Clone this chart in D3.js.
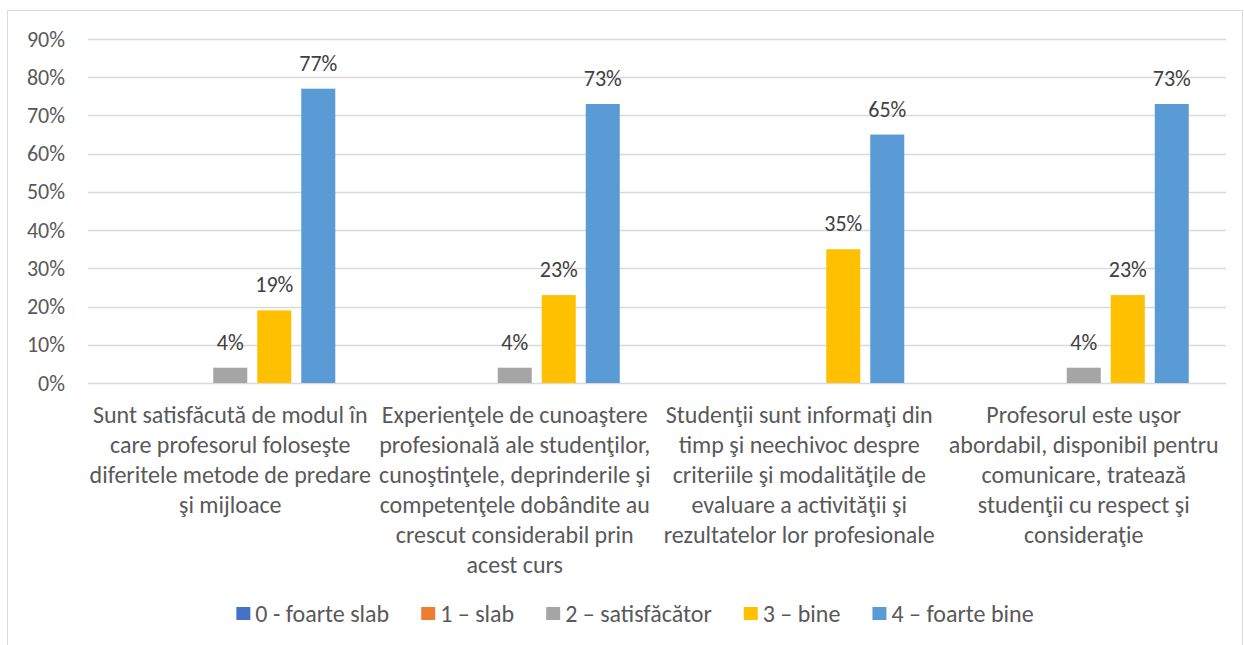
<!DOCTYPE html>
<html>
<head>
<meta charset="utf-8">
<script src="https://cdn.jsdelivr.net/npm/d3@7"></script>
<style>
  html, body { margin: 0; padding: 0; background: #fff; }
  svg { display: block; font-family: Carlito, Calibri, Lato, sans-serif; }
</style>
</head>
<body>
<div id="chart"></div>
<script>
const categories = [
  "Sunt satisfăcută de modul în care profesorul foloseşte diferitele metode de predare şi mijloace",
  "Experienţele de cunoaştere profesională ale studenţilor, cunoştinţele, deprinderile şi competenţele dobândite au crescut considerabil prin acest curs",
  "Studenţii sunt informaţi din timp şi neechivoc despre criteriile şi modalităţile de evaluare a activităţii şi rezultatelor lor profesionale",
  "Profesorul este uşor abordabil, disponibil pentru comunicare, tratează studenţii cu respect şi consideraţie"
];
const seriesNames = ["0 - foarte slab", "1 – slab", "2 – satisfăcător", "3 – bine", "4 – foarte bine"];
const seriesColors = ["#4472C4", "#ED7D31", "#A5A5A5", "#FFC000", "#5B9BD5"];
// one array per series, null = no answer shown
const values0 = [null, null, null, null];
const values1 = [null, null, null, null];
const values2 = [0.04, 0.04, null, 0.04];
const values3 = [0.19, 0.23, 0.35, 0.23];
const values4 = [0.77, 0.73, 0.65, 0.73];
const yTicks = [0, 0.1, 0.2, 0.3, 0.4, 0.5, 0.6, 0.7, 0.8, 0.9];

const width = 1244, height = 645;
const margin = {left: 88, right: 18, top: 39, bottom: 262};
const allValues = [values0, values1, values2, values3, values4];

const svg = d3.select("#chart").append("svg")
  .attr("width", width)
  .attr("height", height);

// chart frame
svg.append("rect")
  .attr("x", 7.5).attr("y", 10.5)
  .attr("width", 1235).attr("height", 700)
  .attr("fill", "none")
  .attr("stroke", "#D9D9D9");

const x0 = d3.scaleBand()
  .domain(categories)
  .range([margin.left, width - margin.right]);

const x1 = d3.scaleBand()
  .domain(seriesNames)
  .range([0, x0.bandwidth()])
  .paddingInner(0.227)
  .paddingOuter(0.846);

const y = d3.scaleLinear()
  .domain([0, 0.9])
  .range([height - margin.bottom, margin.top]);

// gridlines
svg.append("g")
  .selectAll("line")
  .data(yTicks)
  .join("line")
  .attr("x1", margin.left)
  .attr("x2", width - margin.right)
  .attr("y1", d => Math.round(y(d)) + 0.5)
  .attr("y2", d => Math.round(y(d)) + 0.5)
  .attr("stroke", "#D9D9D9")
  .attr("stroke-width", 1.3);

// y axis labels
const yAxis = d3.axisLeft(y)
  .tickValues(yTicks)
  .tickFormat(d3.format(".0%"))
  .tickSize(0)
  .tickPadding(23);

svg.append("g")
  .attr("transform", `translate(${margin.left},0)`)
  .call(yAxis)
  .call(g => g.select(".domain").remove())
  .call(g => g.selectAll("text")
    .attr("fill", "#595959")
    .style("font-size", "22px")
    .style("font-family", "Carlito, Calibri, Lato, sans-serif"));

// bars
const groups = svg.append("g")
  .selectAll("g")
  .data(categories)
  .join("g")
  .attr("transform", d => `translate(${x0(d)},0)`);

const cells = groups.selectAll("g")
  .data((c, ci) => seriesNames.map((s, si) => ({series: s, si: si, value: allValues[si][ci]}))
    .filter(d => d.value !== null))
  .join("g");

cells.append("rect")
  .attr("x", d => x1(d.series))
  .attr("width", x1.bandwidth())
  .attr("y", d => y(d.value))
  .attr("height", d => y(0) - y(d.value))
  .attr("fill", d => seriesColors[d.si]);

cells.append("text")
  .attr("x", d => x1(d.series) + x1.bandwidth() / 2)
  .attr("y", d => y(d.value) - 18)
  .attr("text-anchor", "middle")
  .attr("fill", "#404040")
  .style("font-size", "22px")
  .text(d => d3.format(".0%")(d.value));

// category labels, wrapped to band width
const catLabels = svg.append("g")
  .selectAll("text")
  .data(categories)
  .join("text")
  .attr("text-anchor", "middle")
  .attr("fill", "#595959")
  .style("font-size", "24px")
  .attr("transform", d => `translate(${x0(d) + x0.bandwidth() / 2},423)`);

catLabels.each(function (d) {
  const text = d3.select(this);
  const words = d.split(/\s+/);
  const maxW = x0.bandwidth() - 2;
  let line = [];
  let lineNo = 0;
  let tspan = text.append("tspan").attr("x", 0).attr("y", 0);
  words.forEach(w => {
    line.push(w);
    tspan.text(line.join(" "));
    if (tspan.node().getComputedTextLength() > maxW && line.length > 1) {
      line.pop();
      tspan.text(line.join(" "));
      line = [w];
      lineNo++;
      tspan = text.append("tspan").attr("x", 0).attr("y", lineNo * 30).text(w);
    }
  });
});

// legend
const legend = svg.append("g").attr("transform", "translate(0,614)");
const items = legend.selectAll("g")
  .data(seriesNames)
  .join("g");

items.append("rect")
  .attr("width", 14).attr("height", 13)
  .attr("y", -7)
  .attr("fill", (d, i) => seriesColors[i]);

items.append("text")
  .attr("x", 19)
  .attr("y", 8)
  .attr("fill", "#595959")
  .style("font-size", "24px")
  .text(d => d);

const widths = [];
items.each(function () { widths.push(this.getBBox().width); });
const gap = 32;
const total = d3.sum(widths) + gap * (widths.length - 1);
let cx = 635 - total / 2;
items.attr("transform", (d, i) => {
  const t = `translate(${cx},0)`;
  cx += widths[i] + gap;
  return t;
});
</script>
</body>
</html>
